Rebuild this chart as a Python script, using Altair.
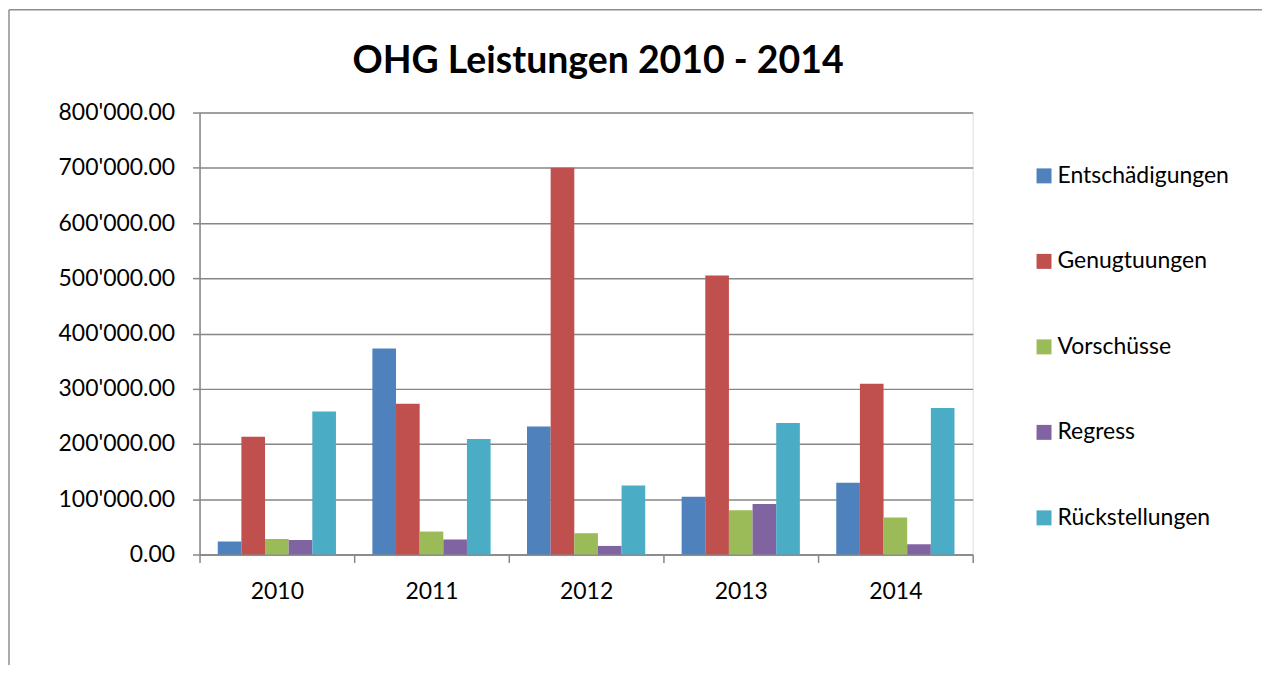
import altair as alt
import pandas as pd

years = ["2010", "2011", "2012", "2013", "2014"]
series = ["Entschädigungen", "Genugtuungen", "Vorschüsse", "Regress", "Rückstellungen"]
entschaedigungen = [23500, 373000, 231500, 104500, 130000]
genugtuungen = [213000, 273000, 700000, 505000, 309000]
vorschuesse = [28000, 41500, 38500, 80000, 67000]
regress = [26000, 27000, 15500, 91500, 18500]
rueckstellungen = [259000, 209000, 125000, 238000, 265000]
y_ticks = [0, 100000, 200000, 300000, 400000, 500000, 600000, 700000, 800000]
title_text = "OHG Leistungen 2010 - 2014"

colors = ["#4F81BD", "#C0504D", "#9BBB59", "#8064A2", "#4BACC6"]

rows = []
for s, vals in zip(series, [entschaedigungen, genugtuungen, vorschuesse, regress, rueckstellungen]):
    for yr, v in zip(years, vals):
        rows.append({"Jahr": yr, "Kategorie": s, "Betrag": v})
df = pd.DataFrame(rows)

W, H = 775, 443
GRAY = "#868686"
FONT = "Lato"

bars = alt.Chart(df).mark_bar().encode(
    x=alt.X(
        "Jahr:N", sort=years,
        scale=alt.Scale(paddingInner=0, paddingOuter=0),
        axis=alt.Axis(title=None, labelAngle=0, tickBand="extent", tickSize=8,
                      tickColor=GRAY, tickWidth=1.5, domainColor=GRAY, domainWidth=1.5,
                      labelFontSize=23, labelFont=FONT, labelColor="black",
                      labelPadding=18, grid=False),
    ),
    xOffset=alt.XOffset("Kategorie:N", sort=series,
                        scale=alt.Scale(paddingOuter=0.77, paddingInner=0)),
    y=alt.Y(
        "Betrag:Q",
        scale=alt.Scale(domain=[0, 800000], nice=False),
        axis=alt.Axis(title=None, values=y_ticks, format=",.2f", tickSize=7,
                      tickColor=GRAY, tickWidth=1.5, domainColor=GRAY, domainWidth=1.5,
                      gridColor=GRAY, gridWidth=1.5, labelFontSize=23, labelFont=FONT,
                      labelColor="black", labelPadding=18),
    ),
    color=alt.Color(
        "Kategorie:N", sort=series,
        scale=alt.Scale(domain=series, range=colors),
        legend=alt.Legend(title=None, orient="none", legendX=835, legendY=52,
                          symbolType="square", symbolSize=225, symbolStrokeWidth=0,
                          labelFontSize=23, labelFont=FONT, labelColor="black",
                          labelOffset=2, labelLimit=400, rowPadding=61.7, padding=0),
    ),
)

one = pd.DataFrame({"a": [0]})
border_top = alt.Chart(one).mark_rule(color="#8e8e8e", strokeWidth=1.5).encode(
    x=alt.value(-191), x2=alt.value(1300), y=alt.value(-103)
)
border_left = alt.Chart(one).mark_rule(color="#8e8e8e", strokeWidth=1.5).encode(
    x=alt.value(-191), y=alt.value(-103), y2=alt.value(700)
)
title = alt.Chart(one).mark_text(
    font=FONT, fontSize=37.5, fontWeight="bold", color="black",
    align="center", baseline="alphabetic"
).encode(x=alt.value(W / 2 + 12), y=alt.value(-40), text=alt.value(title_text))

chart = alt.layer(bars, border_top, border_left, title).properties(
    width=W, height=H,
    autosize=alt.AutoSizeParams(type="none"),
    padding={"left": 192, "top": 104, "right": 290, "bottom": 110},
    background="white",
).configure_view(stroke=None).configure(
    locale={"number": {"decimal": ".", "thousands": "'", "grouping": [3], "currency": ["", ""]}}
)

chart.save("out.html", embed_options={"renderer": "svg", "actions": False})
